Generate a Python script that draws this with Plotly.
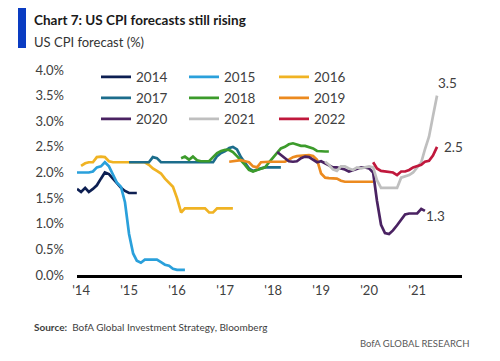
import plotly.graph_objects as go
import pandas as pd

# ---------------- data (forecast made each month, % y/y CPI) ----------------
series_names = ["2014", "2015", "2016", "2017", "2018", "2019", "2020", "2021", "2022"]

start_2014 = "2013-12-01"
v2014 = [1.68, 1.62, 1.70, 1.62, 1.68, 1.75, 1.88, 2.0, 1.97, 1.88, 1.78, 1.7, 1.64, 1.6, 1.6, 1.6]

start_2015 = "2013-12-01"
v2015 = [2.0, 2.0, 2.0, 2.0, 2.02, 2.1, 2.12, 2.2, 2.12, 1.95, 1.8, 1.72, 1.42, 0.8, 0.42, 0.28,
         0.24, 0.3, 0.3, 0.3, 0.3, 0.25, 0.2, 0.18, 0.12, 0.1, 0.1, 0.1]

start_2016 = "2014-01-01"
v2016 = [2.13, 2.18, 2.2, 2.2, 2.3, 2.31, 2.3, 2.22, 2.2, 2.2, 2.2, 2.2, 2.2, 2.2, 2.2, 2.2, 2.2,
         2.15, 2.08, 2.03, 1.98, 1.88, 1.8, 1.72, 1.5, 1.22, 1.3, 1.3, 1.3, 1.3, 1.3, 1.3,
         1.22, 1.22, 1.3, 1.3, 1.3, 1.3, 1.3]

start_2017 = "2015-01-01"
v2017 = [2.2, 2.2, 2.2, 2.2, 2.2, 2.2, 2.3, 2.28, 2.2, 2.2, 2.2, 2.2, 2.2, 2.2, 2.2, 2.2, 2.2,
         2.2, 2.2, 2.2, 2.2, 2.2, 2.32, 2.38, 2.42, 2.48, 2.5, 2.45, 2.3, 2.18, 2.08, 2.03,
         2.06, 2.08, 2.1, 2.1, 2.1, 2.1, 2.1]

start_2018 = "2016-02-01"
v2018 = [2.28, 2.31, 2.25, 2.31, 2.24, 2.22, 2.22, 2.22, 2.3, 2.38, 2.42, 2.44, 2.44, 2.4, 2.32,
         2.24, 2.15, 2.05, 2.02, 2.05, 2.07, 2.1, 2.2, 2.3, 2.4, 2.47, 2.5, 2.55, 2.57, 2.54,
         2.52, 2.52, 2.5, 2.47, 2.42, 2.41, 2.41, 2.41]

start_2019 = "2017-02-01"
v2019 = [2.21, 2.22, 2.23, 2.24, 2.22, 2.2, 2.12, 2.1, 2.2, 2.21, 2.21, 2.21, 2.21, 2.21, 2.21,
         2.25, 2.3, 2.32, 2.33, 2.34, 2.34, 2.32, 2.25, 1.98, 1.9, 1.89, 1.89, 1.88, 1.84, 1.82,
         1.82, 1.82, 1.82, 1.82, 1.82, 1.82, 1.82]

start_2020 = "2018-02-01"
v2020 = [2.4, 2.34, 2.27, 2.22, 2.21, 2.22, 2.28, 2.31, 2.3, 2.25, 2.2, 2.22, 2.18, 2.13, 2.1,
         2.1, 2.08, 2.06, 2.02, 2.05, 2.08, 2.1, 2.1, 2.08, 2.0, 1.45, 0.98, 0.82, 0.8, 0.87,
         0.97, 1.08, 1.18, 1.2, 1.2, 1.2, 1.29, 1.25]

start_2021 = "2019-02-01"
v2021 = [2.21, 2.15, 2.06, 2.03, 2.12, 2.12, 2.08, 2.05, 2.1, 2.08, 2.1, 2.12, 2.1, 1.85, 1.7,
         1.7, 1.7, 1.7, 1.7, 1.9, 1.92, 1.95, 2.0, 2.1, 2.2, 2.45, 2.7, 3.1, 3.5]

start_2022 = "2020-02-01"
v2022 = [2.2, 2.08, 2.03, 2.02, 2.02, 2.0, 1.95, 2.02, 2.02, 2.05, 2.1, 2.12, 2.15, 2.21, 2.23,
         2.33, 2.5]

colors = ["#0d1f52", "#2aa0db", "#f0b323", "#1c6d8c", "#3c9b2b", "#ec8a1f", "#4a2262", "#bfbfbf", "#c0183c"]

year_ticks = ["2014-01-01", "2015-01-01", "2016-01-01", "2017-01-01", "2018-01-01",
              "2019-01-01", "2020-01-01", "2021-01-01"]
year_ticktext = ["'14", "'15", "'16", "'17", "'18", "'19", "'20", "'21"]
y_ticks = [0, 0.5, 1.0, 1.5, 2.0, 2.5, 3.0, 3.5, 4.0]

starts = [start_2014, start_2015, start_2016, start_2017, start_2018, start_2019, start_2020, start_2021, start_2022]
values = [v2014, v2015, v2016, v2017, v2018, v2019, v2020, v2021, v2022]

FONT = "Lato, Liberation Sans, sans-serif"
GREY = "#404040"

# page pixel -> paper coordinate helpers (plot area spans x 77..462, y 70..275 on the page)
def px_x(p):
    return (p - 77) / 385
def px_y(p):
    return (275 - p) / 205

# legend grid: 3 columns x 3 rows, one legend box per entry
leg_cols = [96, 184, 274]
leg_rows = [77, 98, 119]

fig = go.Figure()
legend_layout = {}
for i, (name, st, vals, col) in enumerate(zip(series_names, starts, values, colors)):
    dates = pd.date_range(st, periods=len(vals), freq="MS")
    lg = "legend" if i == 0 else f"legend{i + 1}"
    fig.add_trace(go.Scatter(x=dates, y=vals, mode="lines", name=name,
                             line=dict(color=col, width=2.7), legend=lg,
                             hoverinfo="skip"))
    legend_layout[lg] = dict(x=px_x(leg_cols[i % 3]), y=px_y(leg_rows[i // 3]),
                             xanchor="left", yanchor="middle", orientation="h",
                             font=dict(family=FONT, size=13.5, color=GREY),
                             bgcolor="rgba(0,0,0,0)", itemwidth=30, borderwidth=0)

# end labels
end_labels = [(start_2021, v2021, "3.5", -1, 13), (start_2022, v2022, "2.5", 5, 0), (start_2020, v2020, "1.3", -1, -5)]
for st, vals, txt, xs, ys in end_labels:
    d = pd.date_range(st, periods=len(vals), freq="MS")[-1]
    fig.add_annotation(x=d, y=vals[-1], text=txt, showarrow=False, xanchor="left",
                       yanchor="middle", xshift=xs, yshift=ys,
                       font=dict(family=FONT, size=13.5, color=GREY))

fig.update_layout(
    width=492, height=353,
    margin=dict(l=69, r=38, t=62, b=86),
    paper_bgcolor="white", plot_bgcolor="white",
    font=dict(family=FONT, color=GREY, size=13),
    showlegend=True,
    xaxis=dict(range=["2013-12-01", "2021-12-08"], showgrid=False, zeroline=False,
               showline=True, linecolor="black", linewidth=2.5,
               tickmode="array", tickvals=year_ticks, ticktext=year_ticktext,
               ticks="", ticklabelstandoff=2,
               tickfont=dict(family=FONT, size=13, color=GREY)),
    yaxis=dict(range=[0, 4], showgrid=False, zeroline=False, showline=False,
               tickmode="array", tickvals=y_ticks,
               ticktext=[f"{v:.1f}%" for v in y_ticks],
               ticks="", ticklabelstandoff=12,
               tickfont=dict(family=FONT, size=13, color=GREY)),
    **legend_layout,
)

# header bar, title, subtitle and footer
fig.add_shape(type="rect", xref="paper", yref="paper",
              x0=px_x(18), x1=px_x(26), y0=px_y(48), y1=px_y(8),
              fillcolor="#0a3cc2", line=dict(width=0))
fig.add_annotation(xref="paper", yref="paper", x=px_x(32), y=px_y(20), xanchor="left", yanchor="middle",
                   text="<b>Chart 7: US CPI forecasts still rising</b>", showarrow=False,
                   font=dict(family=FONT, size=13.5, color="#1a1a1a"))
fig.add_annotation(xref="paper", yref="paper", x=px_x(32), y=px_y(42), xanchor="left", yanchor="middle",
                   text="US CPI forecast (%)", showarrow=False,
                   font=dict(family=FONT, size=13, color="#333333"))
fig.add_annotation(xref="paper", yref="paper", x=px_x(32), y=px_y(327), xanchor="left", yanchor="middle",
                   text="<b>Source:</b>  BofA Global Investment Strategy, Bloomberg", showarrow=False,
                   font=dict(family=FONT, size=10, color="#404040"))
fig.add_annotation(xref="paper", yref="paper", x=px_x(471), y=px_y(343), xanchor="right", yanchor="middle",
                   text="BofA GLOBAL RESEARCH", showarrow=False,
                   font=dict(family=FONT, size=9.5, color="#595959"))

fig.write_html("out.html")
